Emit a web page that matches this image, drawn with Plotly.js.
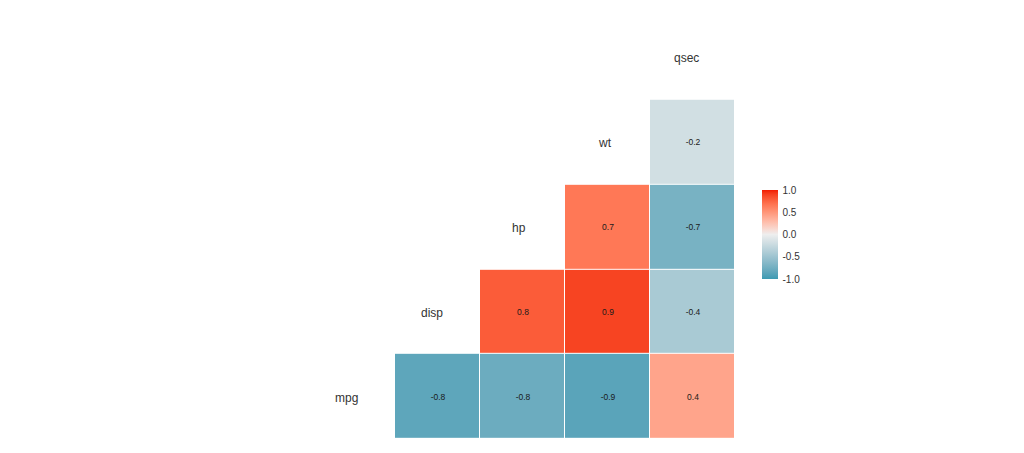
<!DOCTYPE html>
<html><head><meta charset="utf-8">
<script src="https://cdn.plot.ly/plotly-3.0.1.min.js"></script>
<style>html,body{margin:0;padding:0;background:#fff}#chart{width:1024px;height:453px}</style>
</head><body><div id="chart"></div>
<script>
const variables = ["mpg", "disp", "hp", "wt", "qsec"];
// correlation of row variable (y) with column variable (x); lower triangle only
const corrMpg  = [-0.85, -0.78, -0.87, 0.42];
const corrDisp = [0.79, 0.89, -0.43];
const corrHp   = [0.66, -0.71];
const corrWt   = [-0.18];
const rows = [corrMpg, corrDisp, corrHp, corrWt];

const xIdx = [1, 2, 3, 4];
const yIdx = [0, 1, 2, 3];
const z = [], txt = [];
rows.forEach((r, i) => {
  const zr = [], tr = [];
  xIdx.forEach(x => {
    const k = x - i - 1;
    if (k >= 0 && k < r.length) { zr.push(r[k]); tr.push(r[k].toFixed(1)); }
    else { zr.push(null); tr.push(""); }
  });
  z.push(zr); txt.push(tr);
});

// diverging palette interpolated in CIELAB (as ggplot2 does)
function hex2rgb(h){return [1,3,5].map(i=>parseInt(h.substr(i,2),16)/255);}
function lin(c){return c<=0.04045?c/12.92:Math.pow((c+0.055)/1.055,2.4);}
function unlin(c){return c<=0.0031308?12.92*c:1.055*Math.pow(c,1/2.4)-0.055;}
const WP=[0.95047,1,1.08883];
function toLab(h){const [r,g,b]=hex2rgb(h).map(lin);
  const X=(0.4124*r+0.3576*g+0.1805*b)/WP[0],Y=(0.2126*r+0.7152*g+0.0722*b)/WP[1],Z=(0.0193*r+0.1192*g+0.9505*b)/WP[2];
  const f=t=>t>0.008856?Math.cbrt(t):7.787*t+16/116;
  const fx=f(X),fy=f(Y),fz=f(Z);return [116*fy-16,500*(fx-fy),200*(fy-fz)];}
function fromLab(L){const fy=(L[0]+16)/116,fx=fy+L[1]/500,fz=fy-L[2]/200;
  const fi=t=>t*t*t>0.008856?t*t*t:(t-16/116)/7.787;
  const X=fi(fx)*WP[0],Y=fi(fy)*WP[1],Z=fi(fz)*WP[2];
  const r=3.2406*X-1.5372*Y-0.4986*Z,g=-0.9689*X+1.8758*Y+0.0415*Z,b=0.0557*X-0.2040*Y+1.0570*Z;
  const c=v=>Math.round(Math.min(1,Math.max(0,unlin(v)))*255);
  return "rgb("+c(r)+","+c(g)+","+c(b)+")";}
const lowC="#3B9AB2", midC="#EEEEEE", highC="#F21A00";
const Llo=toLab(lowC),Lmid=toLab(midC),Lhi=toLab(highC);
const scale=[];
const N=40;
for(let i=0;i<=N;i++){const t=i/N;let a,b,u;
  if(t<=0.5){a=Llo;b=Lmid;u=t/0.5;}else{a=Lmid;b=Lhi;u=(t-0.5)/0.5;}
  scale.push([t,fromLab([0,1,2].map(j=>a[j]+(b[j]-a[j])*u))]);}

const heat = {
  type: "heatmap", x: xIdx, y: yIdx, z: z, text: txt,
  texttemplate: "%{text}", textfont: {size: 8.5, color: "#1a1a1a", family: "Liberation Sans, Arial"},
  xgap: 1, ygap: 1, zmin: -1, zmax: 1, hoverongaps: false,
  colorscale: scale,
  colorbar: {
    thickness: 16, len: 89, lenmode: "pixels",
    x: (762 - 310) / 425, xanchor: "left", y: (438 - 233.5) / 424, yanchor: "middle",
    xpad: 0, ypad: 0, outlinewidth: 0,
    tickvals: [-1, -0.5, 0, 0.5, 1], ticktext: ["-1.0", "-0.5", "0.0", "0.5", "1.0"],
    ticks: "outside", ticklen: 3, tickcolor: "#ffffff", tickwidth: 1,
    tickfont: {size: 10, color: "#333333", family: "Liberation Sans, Arial"}
  }
};

const cv=document.createElement("canvas").getContext("2d");
cv.font="12px 'Liberation Sans'";
const annotations = variables.map((v, i) => ({
  x: i, y: i, xref: "x", yref: "y", text: v, showarrow: false,
  xshift: -0.25 * cv.measureText(v).width, yshift: -1,
  font: {size: 12, color: "#333333", family: "Liberation Sans, Arial"}
}));

Plotly.newPlot("chart", [heat], {
  width: 1024, height: 453,
  margin: {l: 310, r: 289, t: 15, b: 14},
  paper_bgcolor: "#ffffff", plot_bgcolor: "#ffffff",
  xaxis: {range: [-0.5, 4.5], showgrid: false, zeroline: false, showticklabels: false, ticks: "", fixedrange: true},
  yaxis: {range: [-0.5, 4.5], showgrid: false, zeroline: false, showticklabels: false, ticks: "", fixedrange: true},
  annotations: annotations, showlegend: false
}, {displayModeBar: false, staticPlot: true});
</script></body></html>
